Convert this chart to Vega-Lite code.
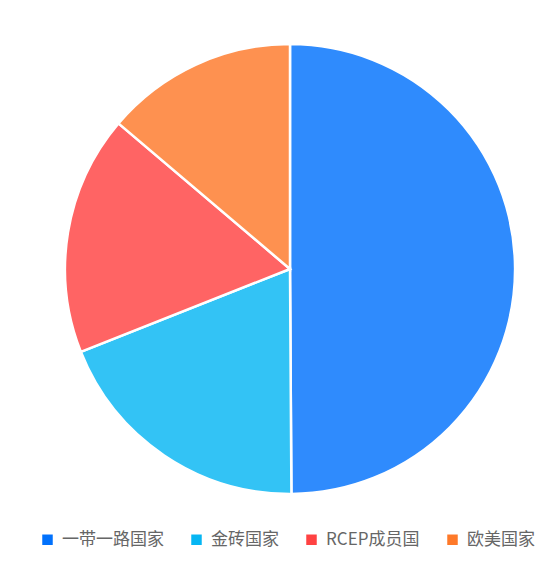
{
  "$schema": "https://vega.github.io/schema/vega-lite/v6.json",
  "width": 450,
  "height": 450,
  "padding": {"left": 65, "top": 44, "right": 44, "bottom": 75},
  "autosize": {"type": "none"},
  "background": "white",
  "config": {"view": {"stroke": null}, "font": "Noto Sans CJK SC"},
  "data": {
    "values": [
      {"category": "一带一路国家", "value": 49.9, "idx": 1},
      {"category": "金砖国家", "value": 19.1, "idx": 2},
      {"category": "RCEP成员国", "value": 17.2, "idx": 3},
      {"category": "欧美国家", "value": 13.8, "idx": 4}
    ]
  },
  "mark": {"type": "arc", "outerRadius": 225, "stroke": "white", "strokeWidth": 2.5, "fillOpacity": 0.82},
  "encoding": {
    "theta": {"field": "value", "type": "quantitative", "stack": true},
    "order": {"field": "idx", "type": "quantitative"},
    "color": {
      "field": "category",
      "type": "nominal",
      "scale": {
        "domain": ["一带一路国家", "金砖国家", "RCEP成员国", "欧美国家"],
        "range": ["#0171fc", "#06b6f3", "#ff4242", "#fe7929"]
      },
      "legend": {
        "title": null,
        "orient": "none",
        "direction": "horizontal",
        "legendX": -26,
        "legendY": 487,
        "symbolType": "square",
        "symbolSize": 110,
        "symbolOpacity": 1,
        "symbolStrokeWidth": 0,
        "labelFontSize": 17,
        "labelColor": "#666666",
        "labelOffset": 6,
        "columnPadding": 24,
        "labelFont": "Noto Sans CJK SC"
      }
    }
  }
}
